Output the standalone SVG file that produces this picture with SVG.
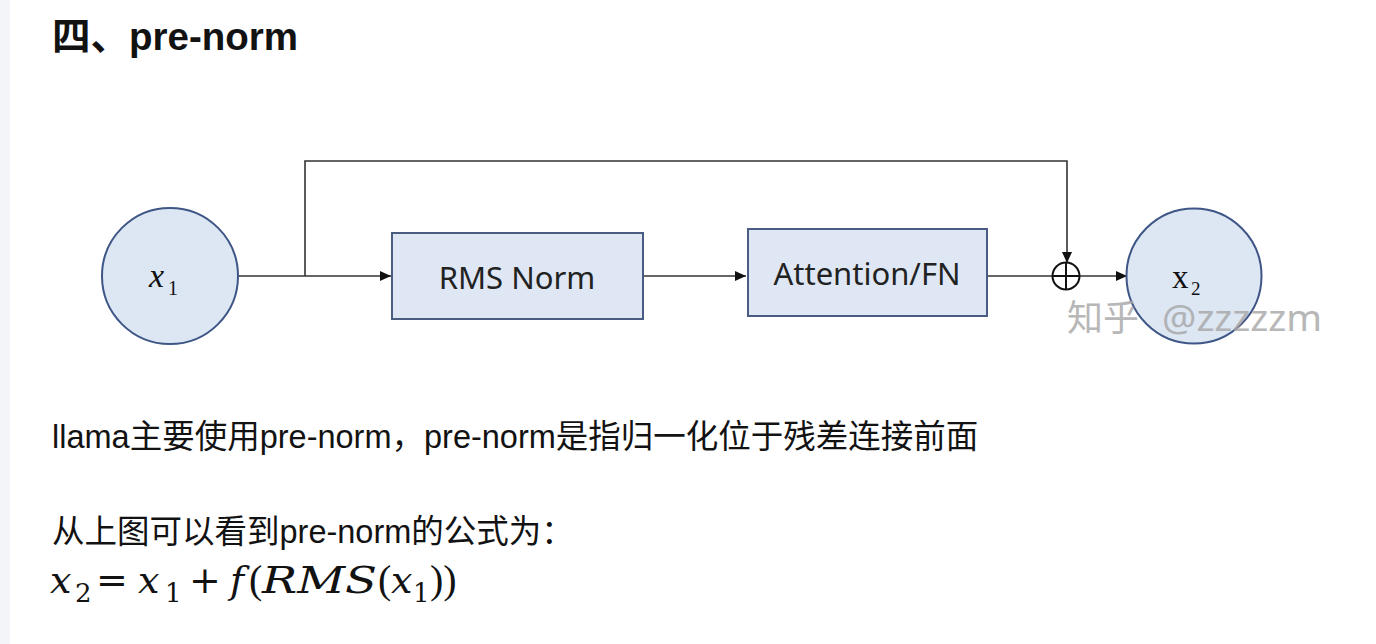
<svg xmlns="http://www.w3.org/2000/svg" width="1376" height="644" viewBox="0 0 1376 644">
  <defs>
    <marker id="arrow" markerWidth="11" markerHeight="10" refX="11" refY="5" orient="auto" markerUnits="userSpaceOnUse">
      <path d="M0,0 L11,5 L0,10 Z" fill="#111"/>
    </marker>
    <style>
      .node-circle { fill: #dde6f3; stroke: #3e5686; stroke-width: 2; }
      .node-box { fill: #dee7f3; stroke: #4a5c82; stroke-width: 2; }
      .conn { fill: none; stroke: #333; stroke-width: 1.6; }
      .label { font-family: "Noto Sans", "Open Sans", sans-serif; font-size: 31px; fill: #222; }
      .body { font-family: "Liberation Sans", "Noto Sans CJK SC", sans-serif; font-size: 32.5px; fill: #121212; }
      .math { font-family: "DejaVu Serif", "Liberation Serif", serif; fill: #121212; }
      .paren { font-family: "Liberation Serif", serif; }
      .lbl { font-family: "Liberation Serif", "DejaVu Serif", serif; fill: #111; }
      .it { font-style: italic; }
    </style>
  </defs>

  <rect x="0" y="0" width="1376" height="644" fill="#ffffff"/>
  <rect x="0" y="0" width="10" height="644" fill="#f4f5f9"/>

  <text x="52" y="50" font-family="'Liberation Sans', 'Noto Sans CJK SC', sans-serif" font-size="38.5" font-weight="bold" fill="#121212">四、pre-norm</text>

  <g id="connectors">
    <line class="conn" x1="238" y1="276" x2="391" y2="276" marker-end="url(#arrow)"/>
    <polyline class="conn" points="305,276 305,161 1067,161 1067,263" marker-end="url(#arrow)"/>
    <line class="conn" x1="643" y1="276" x2="746" y2="276" marker-end="url(#arrow)"/>
    <line class="conn" x1="988" y1="276" x2="1053" y2="276"/>
    <line class="conn" x1="1080" y1="276" x2="1127" y2="276" marker-end="url(#arrow)"/>
  </g>

  <g id="node-x1">
    <circle class="node-circle" cx="170" cy="276" r="68"/>
    <text class="lbl"><tspan x="149" y="287" font-size="34" class="it">x</tspan><tspan x="168" y="295" font-size="20">1</tspan></text>
  </g>

  <g id="node-rmsnorm">
    <rect class="node-box" x="392" y="233" width="251" height="86"/>
    <text class="label" x="517" y="289" text-anchor="middle">RMS Norm</text>
  </g>

  <g id="node-attention">
    <rect class="node-box" x="748" y="229" width="239" height="87"/>
    <text class="label" x="867" y="285" text-anchor="middle">Attention/FN</text>
  </g>

  <g id="node-add">
    <circle cx="1066" cy="276" r="13.5" fill="none" stroke="#111" stroke-width="2"/>
    <line x1="1052.5" y1="276" x2="1079.5" y2="276" stroke="#111" stroke-width="2"/>
    <line x1="1066" y1="262.5" x2="1066" y2="289.5" stroke="#111" stroke-width="2"/>
  </g>

  <g id="node-x2">
    <circle class="node-circle" cx="1194" cy="276" r="67.5"/>
    <text class="lbl"><tspan x="1172" y="288" font-size="33">x</tspan><tspan x="1191" y="295" font-size="19">2</tspan></text>
  </g>

  <g id="watermark" opacity="0.8">
    <text x="1067" y="331" font-family="'Noto Sans CJK SC', sans-serif" font-size="36" fill="#a6a6a6">知乎</text>
    <text x="1162" y="331" font-family="'Noto Sans', sans-serif" font-size="36" fill="#a6a6a6" textLength="160" lengthAdjust="spacingAndGlyphs">@zzzzzm</text>
  </g>

  <text class="body" x="52" y="448">llama主要使用pre-norm，pre-norm是指归一化位于残差连接前面</text>
  <text class="body" x="52" y="543">从上图可以看到pre-norm的公式为：</text>

  <g id="formula">
    <text class="math" font-size="38"><tspan x="50" y="593" class="it">x</tspan><tspan x="75" y="602" font-size="26">2</tspan><tspan x="96" y="593">=</tspan><tspan x="138" y="593" class="it">x</tspan><tspan x="165" y="602" font-size="26">1</tspan><tspan x="189" y="593">+</tspan><tspan x="230" y="593" class="it">f</tspan><tspan x="249" y="593" class="paren" font-size="40">(</tspan><tspan x="262" y="593" class="it" textLength="115" lengthAdjust="spacingAndGlyphs">RMS</tspan><tspan x="378" y="593" class="paren" font-size="40">(</tspan><tspan x="391" y="593" class="it">x</tspan><tspan x="413" y="602" font-size="26">1</tspan><tspan x="430" y="593" class="paren" font-size="40">))</tspan></text>
  </g>
</svg>
